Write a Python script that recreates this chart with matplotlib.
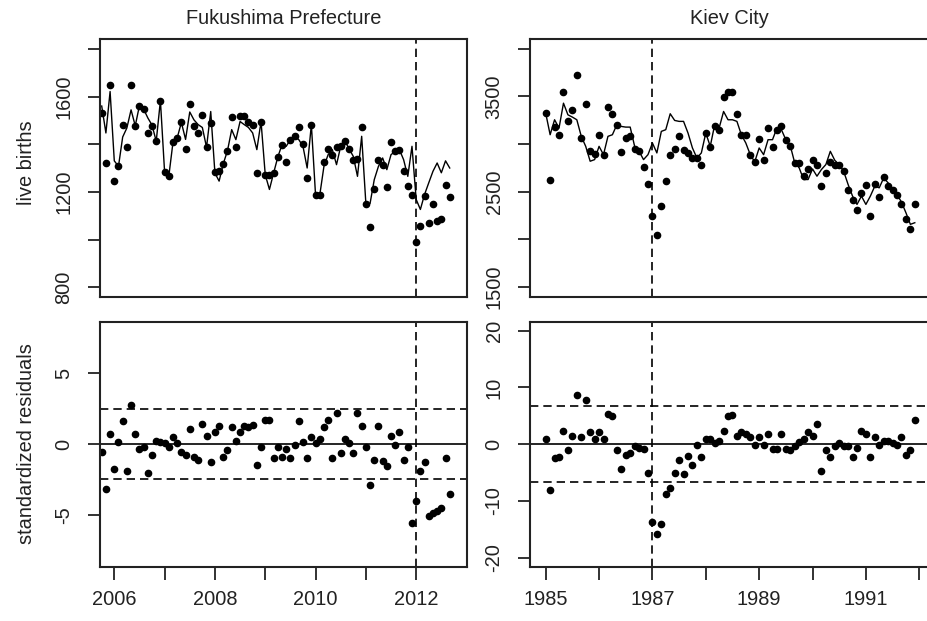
import numpy as np
import matplotlib
matplotlib.use("Agg")
import matplotlib.pyplot as plt

plt.rcParams['font.family'] = ['Liberation Sans', 'DejaVu Sans']
plt.rcParams['axes.unicode_minus'] = False

# Fukushima Prefecture, monthly series starting Oct 2005
fuk_start = 2005.75
fuk_births = [1530, 1321, 1649, 1245, 1307, 1482, 1388, 1649, 1477, 1562,
              1547, 1447, 1477, 1412, 1583, 1282, 1265, 1408, 1426, 1491,
              1380, 1568, 1475, 1447, 1521, 1387, 1488, 1282, 1286, 1318,
              1373, 1514, 1387, 1519, 1519, 1495, 1482, 1279, 1495, 1272,
              1272, 1279, 1346, 1398, 1325, 1419, 1433, 1472, 1402, 1258,
              1482, 1186, 1186, 1325, 1381, 1356, 1387, 1391, 1415, 1380,
              1335, 1338, 1472, 1151, 1052, 1212, 1332, 1314, 1219, 1408,
              1370, 1377, 1286, 1224, 1186, 991, 1056, 1182, 1070, 1151,
              1077, 1085, 1230, 1180]
fuk_fit = [1560, 1447, 1621, 1330, 1307, 1430, 1468, 1544, 1477, 1562,
           1547, 1510, 1480, 1412, 1583, 1282, 1265, 1408, 1426, 1491,
           1420, 1535, 1502, 1482, 1470, 1387, 1537, 1279, 1245, 1318,
           1373, 1461, 1419, 1495, 1482, 1470, 1447, 1377, 1495, 1272,
           1210, 1279, 1346, 1398, 1391, 1419, 1433, 1419, 1391, 1300,
           1482, 1186, 1186, 1307, 1356, 1377, 1314, 1391, 1415, 1380,
           1349, 1265, 1433, 1151, 1151, 1251, 1307, 1342, 1293, 1356,
           1370, 1377, 1335, 1265, 1391, 1168, 1126, 1189, 1238, 1286,
           1321, 1280, 1330, 1300]
fuk_resid = [-0.52, -3.14, 0.71, -1.77, 0.17, 1.65, -1.89, 2.77, 0.71, -0.31,
             -0.17, -2.0, -0.76, 0.24, 0.19, 0.07, -0.19, 0.52, 0.07, -0.54,
             -0.78, 1.06, -0.87, -1.13, 1.42, 0.59, -1.23, 0.83, 1.3, -0.87,
             -0.43, 1.18, 0.24, 0.83, 1.3, 1.18, 1.37, -1.47, -0.19, 1.73,
             1.73, -0.99, -0.19, -0.87, -0.31, -0.99, -0.07, 1.61, 0.17, -0.99,
             0.52, 0.05, 0.35, 1.18, 1.73, -0.99, 2.2, -0.64, 0.4, 0.07,
             -0.64, 2.2, 1.3, -0.19, -2.91, -1.11, 1.3, -1.18, -1.54, 0.59,
             -0.05, 0.83, -1.11, -0.19, -5.56, -4.02, -1.89, -1.23, -5.08, -4.85,
             -4.73, -4.5, -1.0, -3.5]
fuk_band = 2.45
fuk_event = 2012.0

# Kiev City, monthly series Jan 1985 - Dec 1991
kiev_start = 1985.0
kiev_births = [3326, 2629, 3179, 3099, 3552, 3239, 3354, 3726, 3065, 3423,
               2925, 2897, 3099, 2890, 3389, 3319, 3204, 2918, 3065, 3089,
               2953, 2932, 2761, 2584, 2246, 2044, 2350, 2612, 2883, 2953,
               3082, 2943, 2908, 2855, 2855, 2779, 3117, 2967, 3186, 3152,
               3490, 3542, 3542, 3319, 3099, 3099, 2890, 2814, 3054, 2838,
               3169, 2967, 3152, 3186, 3047, 2984, 2803, 2803, 2664, 2740,
               2838, 2786, 2566, 2699, 2810, 2786, 2786, 2716, 2518, 2410,
               2308, 2483, 2570, 2246, 2584, 2444, 2657, 2559, 2518, 2465,
               2368, 2211, 2106, 2368]
kiev_fit = [3326, 3099, 3256, 3169, 3430, 3308, 3284, 3256, 3082, 2977,
            2821, 2838, 2977, 2890, 3082, 3099, 3204, 3186, 3179, 3179,
            2977, 2925, 2838, 2890, 3012, 2908, 3134, 3152, 3319, 3249,
            3239, 3239, 3117, 2960, 2855, 2908, 3117, 2977, 3204, 3169,
            3343, 3256, 3256, 3239, 3099, 3012, 2890, 2814, 2960, 2890,
            3047, 3047, 3169, 3152, 3047, 2984, 2803, 2751, 2629, 2629,
            2740, 2664, 2734, 2786, 2925, 2831, 2786, 2716, 2577, 2455,
            2368, 2455, 2368, 2455, 2559, 2542, 2646, 2594, 2524, 2472,
            2392, 2281, 2159, 2176]
kiev_resid = [1.0, -8.1, -2.5, -2.2, 2.4, -1.1, 1.5, 8.6, 1.3, 7.8,
              2.2, 1.0, 2.2, 1.0, 5.3, 5.0, -1.1, -4.4, -1.9, -1.6,
              -0.3, -0.7, -0.8, -5.1, -13.8, -15.8, -14.1, -8.7, -7.8, -5.0,
              -2.8, -5.3, -2.1, -3.6, -0.2, -2.2, 1.0, 1.0, 0.2, 0.6,
              2.4, 5.0, 5.2, 1.5, 2.1, 1.8, 1.3, -0.1, 1.3, -0.1,
              1.8, -0.8, -0.8, 1.8, -0.8, -1.1, -0.3, 0.4, 1.0, 2.1,
              1.5, 3.5, -4.7, -1.1, -2.2, -0.3, 0.2, -0.3, -0.4, -2.2,
              -0.7, 2.4, 1.8, -2.2, 1.3, -0.2, 0.6, 0.6, 0.2, -0.2,
              1.3, -1.9, -1.1, 4.3]
kiev_band = 6.7
kiev_event = 1987.0

W, H = 928, 621
FS = 14.4
fig = plt.figure(figsize=(W / 100, H / 100), dpi=100)


def box(l, t, r, b):
    return fig.add_axes([l / W, 1 - b / H, (r - l) / W, (b - t) / H])


def style(ax):
    for s in ax.spines.values():
        s.set_linewidth(1.5)
        s.set_color('#222222')
    ax.tick_params(direction='out', length=9, width=1.3, color='#222222',
                   labelsize=FS, labelcolor='#222222')
    ax.tick_params(axis='x', pad=8)
    ax.tick_params(axis='y', pad=10, labelrotation=90)
    for lbl in ax.get_yticklabels():
        lbl.set_va('center')


def months(start, n):
    return start + np.arange(n) / 12.0


def top_panel(ax, start, births, fit, event, xlim, ylim, yticks, ylabels, title):
    ax.plot(months(start, len(fit)), fit, color='black', lw=1.0)
    ax.plot(months(start, len(births)), births, 'o', color='black', ms=4.5)
    ax.axvline(event, color='black', lw=1.2, ls=(0, (5, 3)))
    ax.set_xlim(xlim)
    ax.set_ylim(ylim)
    ax.set_xticks([])
    ax.set_yticks(yticks)
    ax.set_yticklabels(ylabels)
    ax.set_title(title, fontsize=FS, pad=11, color='#222222')
    style(ax)


def bottom_panel(ax, start, resid, band, event, xlim, ylim, yticks,
                 xticks, xlabels):
    ax.plot(months(start, len(resid)), resid, 'o', color='black', ms=4.5)
    ax.axhline(0, color='black', lw=1.2)
    ax.axhline(band, color='black', lw=1.2, ls=(0, (5, 3)))
    ax.axhline(-band, color='black', lw=1.2, ls=(0, (5, 3)))
    ax.axvline(event, color='black', lw=1.2, ls=(0, (5, 3)))
    ax.set_xlim(xlim)
    ax.set_ylim(ylim)
    ax.set_yticks(yticks)
    ax.set_xticks(xticks)
    ax.set_xticklabels(xlabels)
    style(ax)


fuk_xlim = (2005.716, 2013.01)
kiev_xlim = (1984.706, 1992.19)

ax1 = box(100, 39.3, 467, 296.7)
top_panel(ax1, fuk_start, fuk_births, fuk_fit, fuk_event, fuk_xlim, (760, 1840),
          [800, 1000, 1200, 1400, 1600, 1800],
          ['800', '', '1200', '', '1600', ''], 'Fukushima Prefecture')

ax2 = box(530, 39.3, 929.4, 296.7)
top_panel(ax2, kiev_start, kiev_births, kiev_fit, kiev_event, kiev_xlim, (1400, 4100),
          [1500, 2000, 2500, 3000, 3500, 4000],
          ['1500', '', '2500', '', '3500', ''], 'Kiev City')

ax3 = box(100, 321.7, 467, 566.7)
bottom_panel(ax3, fuk_start, fuk_resid, fuk_band, fuk_event, fuk_xlim, (-8.64, 8.64),
             [-5, 0, 5], list(range(2006, 2013)),
             ['2006', '', '2008', '', '2010', '', '2012'])

ax4 = box(530, 321.7, 929.4, 566.7)
bottom_panel(ax4, kiev_start, kiev_resid, kiev_band, kiev_event, kiev_xlim, (-21.6, 21.6),
             [-20, -10, 0, 10, 20], list(range(1985, 1993)),
             ['1985', '', '1987', '', '1989', '', '1991', ''])

fig.text(27 / W, 1 - 163 / H, 'live births', rotation=90, ha='center', va='center',
         fontsize=FS, color='#222222')
fig.text(27 / W, 1 - 444 / H, 'standardized residuals', rotation=90, ha='center',
         va='center', fontsize=FS, color='#222222')

fig.savefig('out.png', dpi=100)
